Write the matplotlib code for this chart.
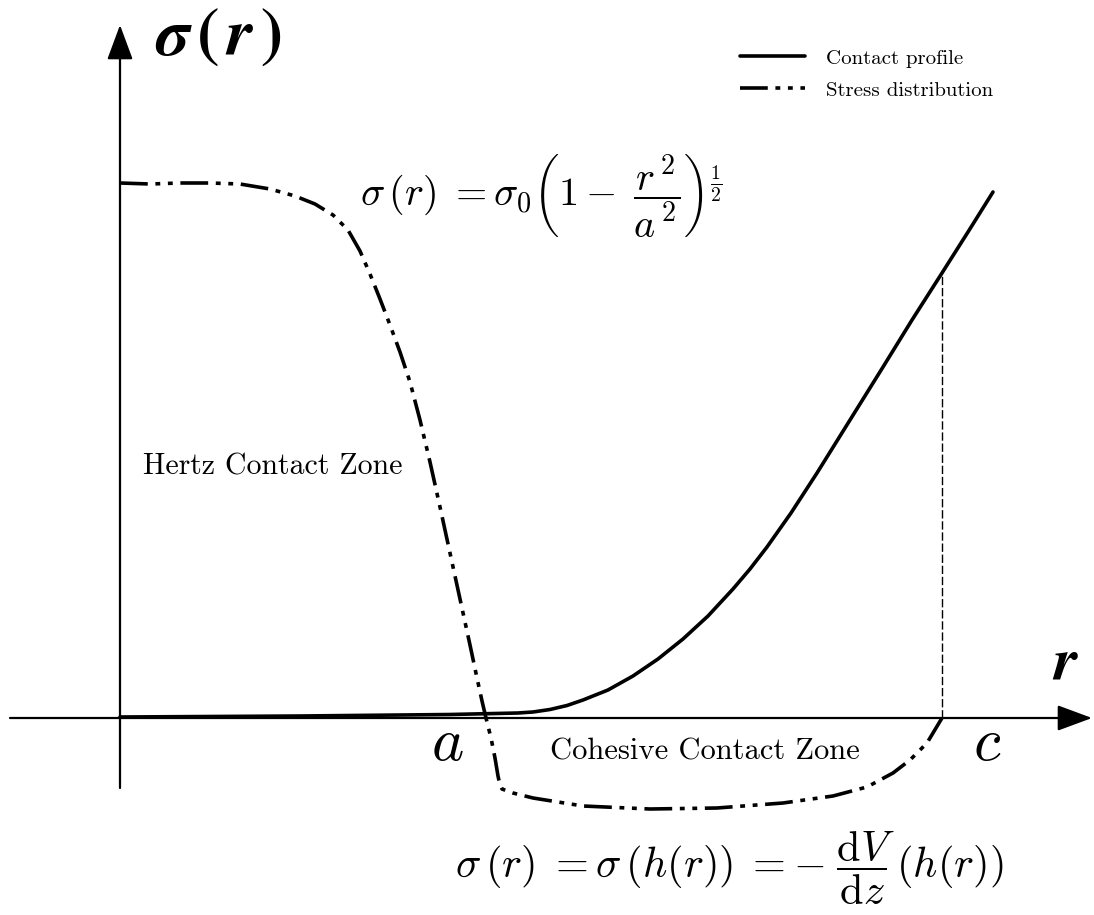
import matplotlib
matplotlib.use("Agg")
import matplotlib.pyplot as plt

plt.rcParams["mathtext.fontset"] = "cm"
plt.rcParams["font.family"] = "serif"
plt.rcParams["font.serif"] = ["cmr10", "DejaVu Serif"]
plt.rcParams["axes.formatter.use_mathtext"] = True
plt.rcParams["lines.scale_dashes"] = False

# stress distribution sigma(r), schematic units
stress_r = [0, 30, 60, 90, 120, 150, 175, 195, 213, 228, 240, 250, 260, 270,
            280, 290, 300, 310, 320, 330, 340, 350, 357, 362, 366, 371, 375,
            378, 380, 382, 393, 413, 463, 530, 597, 663, 713, 747, 773, 790,
            807, 822]
stress_s = [535, 534, 535, 535, 534, 529, 522, 514, 503, 488, 467, 444, 419,
            393, 366, 336, 298, 256, 211, 165, 119, 73, 40, 17, 0, -20, -40,
            -58, -67, -71, -75, -80, -88, -91, -90, -85, -78, -69, -55, -42,
            -25, 0]

# contact profile h(r)
profile_r = [0, 180, 330, 398, 413, 430, 447, 463, 488, 513, 538, 563, 588,
             613, 630, 647, 671, 697, 730, 763, 792, 822, 848, 873]
profile_h = [1, 2, 3.5, 5, 6, 8.5, 12.5, 18, 28, 42, 59, 79, 102, 129, 149,
             171, 205, 245, 298, 351, 398, 445, 486, 526]

c_r = 822
c_h = 445

stress_dash = (0, (20, 5.5, 3.5, 5.5, 3.5, 5.5))

fig = plt.figure(figsize=(10.94, 9.15), dpi=100)
ax = fig.add_axes([0, 0, 1, 1])
ax.set_xlim(-120, 974)
ax.set_ylim(-197, 718)
ax.axis("off")

# coordinate axes with arrow heads
arrow = dict(arrowstyle="-|>,head_length=1.08,head_width=0.4",
             mutation_scale=20, lw=1.6, color="black",
             shrinkA=0, shrinkB=0)
ax.annotate("", xy=(972, 0), xytext=(-110, 0), arrowprops=arrow)
ax.annotate("", xy=(0, 693), xytext=(0, -70), arrowprops=arrow)

ax.plot(profile_r, profile_h, color="black", lw=2.6, solid_capstyle="round",
        label="Contact profile")
ax.plot(stress_r, stress_s, color="black", lw=2.6, linestyle=stress_dash,
        label="Stress distribution")
ax.plot([c_r, c_r], [0, c_h], color="black", lw=1.0, linestyle=(0, (6, 2)))

# labels
ax.text(35, 681,
        r"$\boldsymbol{\sigma}\,\mathbf{(}\,\boldsymbol{r}\,\mathbf{)}$",
        fontsize=48, ha="left", va="center", math_fontfamily="stix")
ax.text(946, 54, r"$\boldsymbol{r}$", fontsize=44, ha="center", va="center",
        math_fontfamily="stix")
ax.text(327, -26, r"$a$", fontsize=44, ha="center", va="center")
ax.text(867, -26, r"$c$", fontsize=44, ha="center", va="center")
ax.text(23, 251, "Hertz Contact Zone", fontsize=21.5, ha="left",
        va="center")
ax.text(430, -34, "Cohesive Contact Zone", fontsize=22, ha="left",
        va="center")
ax.text(240, 523,
        r"$\sigma\,(r)\;=\sigma_0\left(1 -\; \dfrac{r^{\,2}}{a^{\,2}}\right)^{\frac{1}{2}}$",
        fontsize=29, ha="left", va="center")
ax.text(335, -150,
        r"$\sigma\,(r)\;=\sigma\,(h(r))\;=-\;\dfrac{\mathrm{d}V}{\mathrm{d}z}\,(h(r))$",
        fontsize=30.5, ha="left", va="center")

ax.legend(loc="upper left", bbox_to_anchor=(740 / 1094, 1 - 49 / 915),
          frameon=False, fontsize=15, handlelength=3.1, handletextpad=1.05,
          labelspacing=0.65, borderpad=0, borderaxespad=0)

fig.savefig("out.png", dpi=100)
